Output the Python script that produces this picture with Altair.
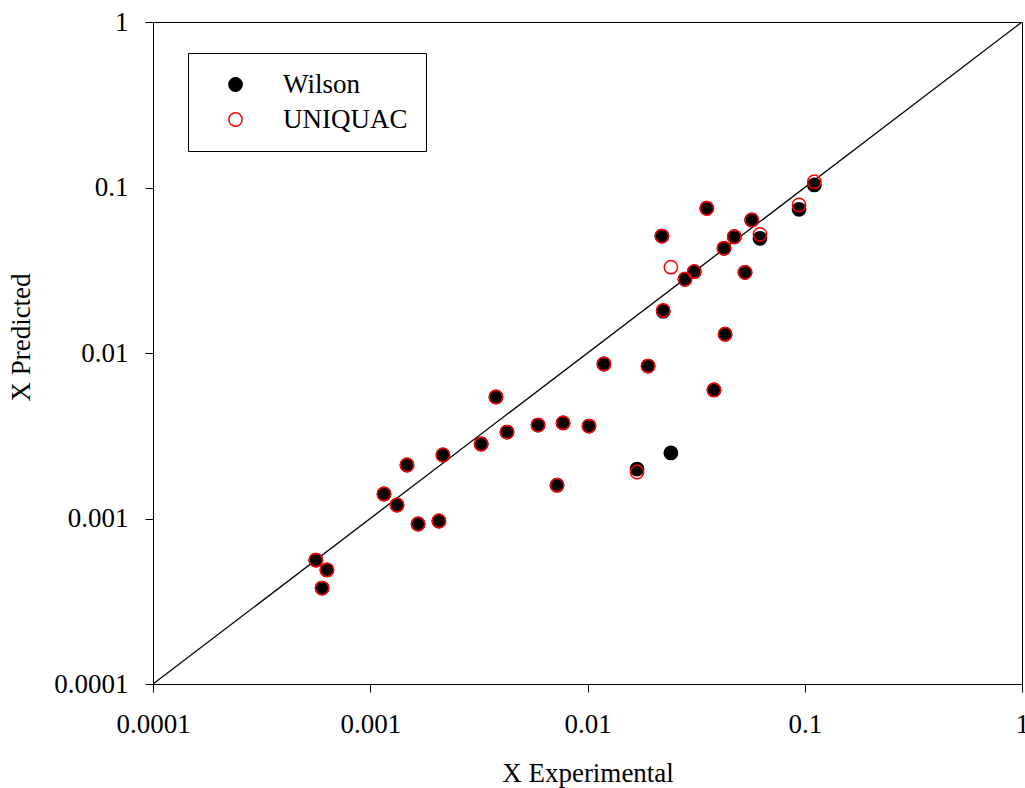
import altair as alt
import pandas as pd

x_exp = [0.000562, 0.000632, 0.000600, 0.001157, 0.001328, 0.001476, 0.00166, 0.00207,
         0.00216, 0.00324, 0.00379, 0.00426, 0.00592, 0.00724, 0.00772, 0.01016, 0.0119,
         0.0169, 0.0190, 0.0242, 0.0220, 0.0223, 0.0281, 0.0310, 0.0354, 0.0382, 0.0425,
         0.0430, 0.0474, 0.0531, 0.0570, 0.0622, 0.0941, 0.1107]
wilson = [0.000561, 0.000489, 0.00038, 0.001406, 0.001207, 0.002105, 0.000926, 0.000966,
          0.00242, 0.00282, 0.00542, 0.00333, 0.00367, 0.00159, 0.00378, 0.00362, 0.00858,
          0.00199, 0.00834, 0.00249, 0.0509, 0.0179, 0.0279, 0.0310, 0.0749, 0.00598, 0.0429,
          0.0130, 0.0504, 0.0307, 0.0636, 0.0493, 0.0738, 0.1036]
uniquac = [0.000561, 0.000489, 0.00038, 0.001406, 0.001207, 0.002105, 0.000926, 0.000966,
           0.00242, 0.00282, 0.00542, 0.00333, 0.00367, 0.00159, 0.00378, 0.00362, 0.00858,
           0.00191, 0.00834, 0.0330, 0.0509, 0.0181, 0.0279, 0.0310, 0.0749, 0.00598, 0.0429,
           0.0130, 0.0504, 0.0307, 0.0636, 0.0521, 0.0784, 0.1084]
models = ["Wilson", "UNIQUAC"]
tick_values = [0.0001, 0.001, 0.01, 0.1, 1]
diag = [0.0001, 1]

FONT = "Liberation Serif"
FS = 27

rows = []
for m, ys in zip(models, [wilson, uniquac]):
    for xv, yv in zip(x_exp, ys):
        rows.append({"x": xv, "y": yv, "model": m})
df = pd.DataFrame(rows)
df_line = pd.DataFrame({"x": diag, "y": diag})

xscale = alt.Scale(type="log", domain=[0.0001, 1])
yscale = alt.Scale(type="log", domain=[0.0001, 1])

xaxis = alt.Axis(values=tick_values, format="~g", grid=False, tickSize=8, labelPadding=19,
                 labelFont=FONT, labelFontSize=FS, labelColor="black", titleFont=FONT,
                 titleFontSize=FS, titleFontWeight="normal", titleColor="black",
                 titleBaseline="alphabetic", titleY=97, domainColor="black",
                 tickColor="black", labelFlush=False, labelOverlap=False)
yaxis = alt.Axis(values=tick_values, format="~g", grid=False, tickSize=8, labelPadding=17,
                 labelFont=FONT, labelFontSize=FS, labelColor="black", titleFont=FONT,
                 titleFontSize=FS, titleFontWeight="normal", titleColor="black",
                 titleBaseline="alphabetic", titleX=-124, titleY=315, domainColor="black",
                 tickColor="black", labelFlush=False, labelOverlap=False)

line = alt.Chart(df_line).mark_line(color="black", strokeWidth=1.3, clip=True).encode(
    x=alt.X("x:Q", scale=xscale, axis=xaxis, title="X Experimental"),
    y=alt.Y("y:Q", scale=yscale, axis=yaxis, title="X Predicted"),
)

legend = alt.Legend(title=None, orient="none", legendX=35, legendY=31, padding=18,
                    symbolOffset=16, labelOffset=34, rowPadding=7, strokeColor="black",
                    labelFont=FONT, labelFontSize=FS, labelColor="black", labelLimit=400,
                    symbolSize=177, symbolStrokeWidth=1.5, symbolType="circle")

points = alt.Chart(df).mark_point(shape="circle", size=177, strokeWidth=1.5, opacity=1).encode(
    x=alt.X("x:Q", scale=xscale),
    y=alt.Y("y:Q", scale=yscale),
    fill=alt.Fill("model:N", scale=alt.Scale(domain=models, range=["black", "transparent"]),
                  legend=legend),
    stroke=alt.Stroke("model:N", scale=alt.Scale(domain=models, range=["black", "red"]),
                      legend=legend),
)

chart = alt.layer(line, points).properties(
    width=869, height=662,
    autosize=alt.AutoSizeParams(type="none"),
    padding={"left": 153, "top": 22, "right": 3, "bottom": 104},
    background="white",
).configure_view(stroke="black", strokeWidth=1)

chart.save("out.html", embed_options={"renderer": "svg", "actions": False})
